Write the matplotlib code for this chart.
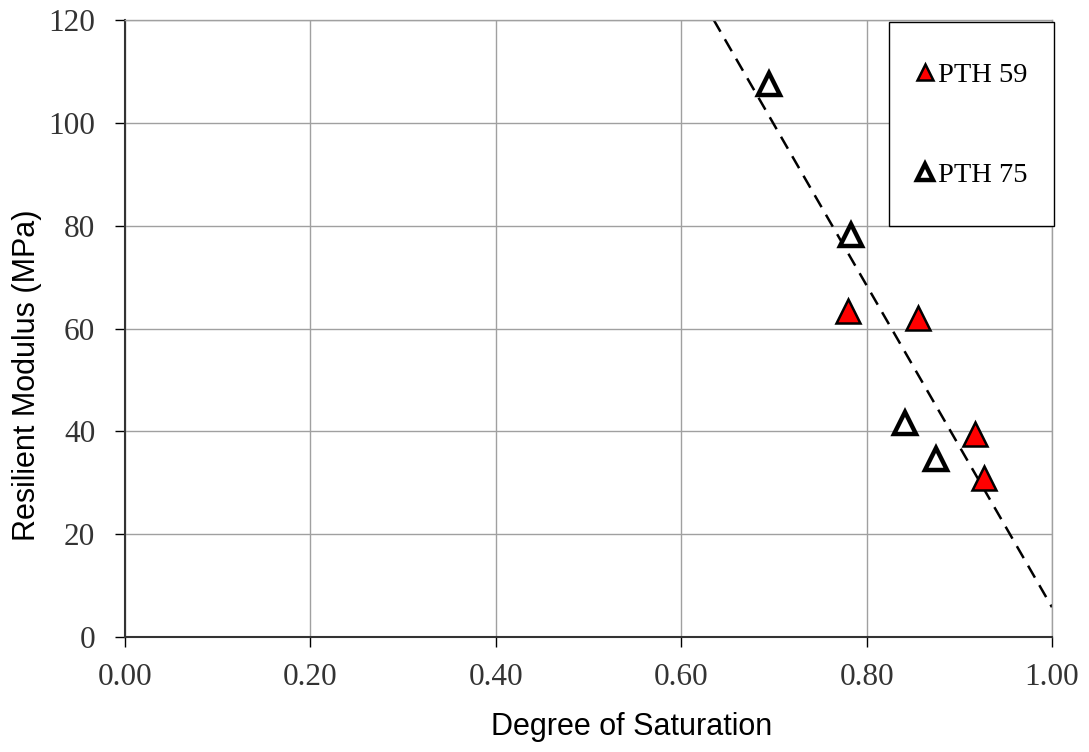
import numpy as np
import matplotlib
matplotlib.use('Agg')
import matplotlib.pyplot as plt
from matplotlib.patches import Rectangle

# Degree of saturation vs resilient modulus for two sections
pth59_sat = [0.780, 0.855, 0.917, 0.927]
pth59_mr = [63.4, 62.0, 39.5, 30.9]
pth75_sat = [0.695, 0.783, 0.841, 0.875]
pth75_mr = [107.5, 78.2, 41.6, 34.6]

# linear trend through all points
trend_slope = -313.0
trend_intercept = 318.8
trend_x = [0.635, 1.0]

xticks = [0.0, 0.2, 0.4, 0.6, 0.8, 1.0]
yticks = [0, 20, 40, 60, 80, 100, 120]


def main():
    fig = plt.figure(figsize=(10.89, 7.52), dpi=100)
    ax = fig.add_axes([0.1148, 0.1529, 0.8512, 0.8205])

    ax.grid(True, color='#a0a0a0', linewidth=1.0)
    ax.set_axisbelow(True)

    tx = np.array(trend_x)
    ax.plot(tx, trend_slope * tx + trend_intercept, color='black', linestyle=(0, (5.5, 3.5)),
            linewidth=1.8, zorder=2)

    ax.plot(pth59_sat, pth59_mr, linestyle='none', marker='^', markersize=17.5,
            markerfacecolor='#ff0000', markeredgecolor='black', markeredgewidth=1.8,
            label='PTH 59', zorder=3)
    ax.plot(pth75_sat, pth75_mr, linestyle='none', marker='^', markersize=16.5,
            markerfacecolor='white', markeredgecolor='black', markeredgewidth=3.2,
            label='PTH 75', zorder=3)

    ax.set_xlim(0, 1.0)
    ax.set_ylim(0, 120)
    ax.set_xticks(xticks)
    ax.set_yticks(yticks)
    ax.set_xticklabels([f'{v:.2f}' for v in xticks])
    ax.set_yticklabels([str(v) for v in yticks])
    ax.tick_params(direction='out', length=7.5, width=1, colors='black', labelsize=22.5)
    ax.tick_params(axis='x', pad=11)
    ax.tick_params(axis='y', pad=14)
    for lbl in ax.get_xticklabels() + ax.get_yticklabels():
        lbl.set_family('Liberation Serif')
        lbl.set_color('#333333')

    for side in ['left', 'bottom']:
        ax.spines[side].set_color('#333333')
        ax.spines[side].set_linewidth(1.5)
    for side in ['top', 'right']:
        ax.spines[side].set_color('#a0a0a0')
        ax.spines[side].set_linewidth(1.0)

    ax.set_xlabel('Degree of Saturation', family='Liberation Sans', fontsize=22)
    ax.set_ylabel('Resilient Modulus (MPa)', family='Liberation Sans', fontsize=22)
    ax.xaxis.set_label_coords(0.546, -0.122)
    ax.yaxis.set_label_coords(-0.090, 0.425)

    # legend box is a tall white panel in the upper right corner
    box = Rectangle((0.824, 0.666), 0.178, 0.331, transform=ax.transAxes,
                    facecolor='white', edgecolor='black', linewidth=1.0,
                    clip_on=False, zorder=4)
    ax.add_patch(box)
    leg = ax.legend(loc='center', bbox_to_anchor=(0.9137, 0.8298), borderaxespad=0,
                    prop={'family': 'Liberation Serif', 'size': 20.5}, markerscale=0.68,
                    handlelength=0.6, handletextpad=0.15, labelspacing=2.6,
                    borderpad=0, frameon=False)
    leg.set_zorder(5)

    fig.savefig('out.png', dpi=100)


if __name__ == '__main__':
    main()
